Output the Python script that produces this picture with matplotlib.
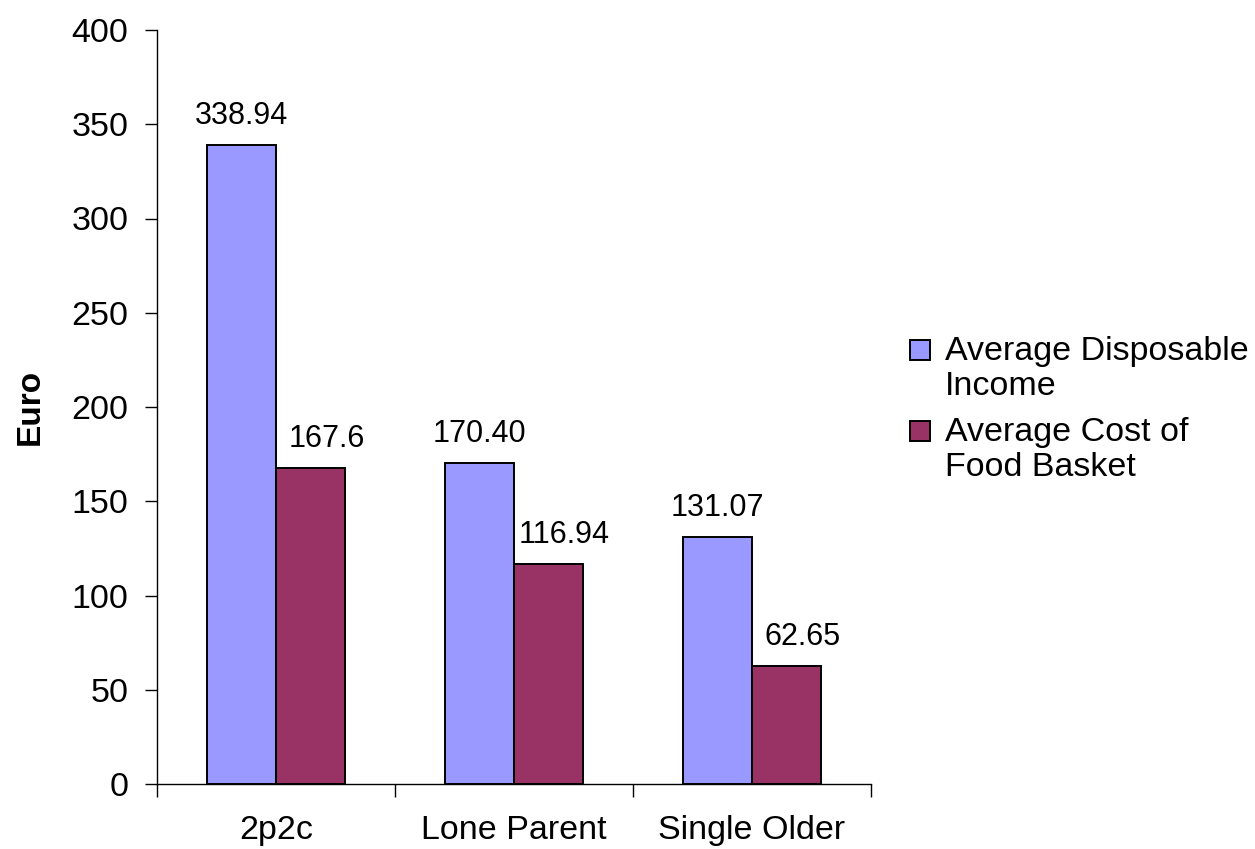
import matplotlib
matplotlib.use("Agg")
import matplotlib.pyplot as plt
from matplotlib.patches import Rectangle
import numpy as np

# Data
categories = ["2p2c", "Lone Parent", "Single Older"]
income = [338.94, 170.40, 131.07]
food_cost = [167.6, 116.94, 62.65]
income_labels = ["338.94", "170.40", "131.07"]
food_labels = ["167.6", "116.94", "62.65"]
series_names = ["Average Disposable\nIncome", "Average Cost of\nFood Basket"]
yticks = [0, 50, 100, 150, 200, 250, 300, 350, 400]

BLUE = "#9999FF"
PLUM = "#993366"

plt.rcParams["font.family"] = ["Liberation Sans", "DejaVu Sans"]

W, H = 1255, 849
fig = plt.figure(figsize=(W / 100, H / 100), dpi=100)
fig.patch.set_facecolor("white")

# axes box in pixel terms
x0, x1 = 157, 871
ytop, ybot = 30, 784
ax = fig.add_axes([x0 / W, 1 - ybot / H, (x1 - x0) / W, (ybot - ytop) / H])

x = np.arange(len(categories))
bw = 0.29
ax.bar(x - bw / 2, income, bw, color=BLUE, edgecolor="black", linewidth=1.4, zorder=3)
ax.bar(x + bw / 2, food_cost, bw, color=PLUM, edgecolor="black", linewidth=1.4, zorder=3)

# value labels
for xi, v, lab in zip(x, income, income_labels):
    ax.annotate(lab, (xi - bw / 2, v), xytext=(0, 15), textcoords="offset points",
                ha="center", va="baseline", fontsize=22)
for xi, v, lab in zip(x, food_cost, food_labels):
    ax.annotate(lab, (xi + bw / 2, v), xytext=(11.5, 15), textcoords="offset points",
                ha="center", va="baseline", fontsize=22)

ax.set_xlim(-0.5, len(categories) - 0.5)
ax.set_ylim(0, 400)

for s in ("top", "right"):
    ax.spines[s].set_visible(False)
for s in ("left", "bottom"):
    ax.spines[s].set_linewidth(1.0)
    ax.spines[s].set_color("black")

ax.set_yticks(yticks)
ax.set_yticklabels([str(t) for t in yticks], fontsize=24.5)
ax.tick_params(axis="y", direction="out", length=8.5, width=1.0, pad=12)

# category boundaries as major ticks, names centred as minor ticks
ax.set_xticks(np.arange(len(categories) + 1) - 0.5)
ax.set_xticklabels([])
ax.tick_params(axis="x", which="major", direction="out", length=9.5, width=1.0)
ax.set_xticks(x, minor=True)
ax.set_xticklabels(categories, minor=True, fontsize=24.5)
ax.tick_params(axis="x", which="minor", length=0, pad=22)

fig.text(30 / W, 1 - 407 / H, "Euro", rotation=90, ha="center", va="center",
         fontsize=24, fontweight="bold")

# legend
sq = 20
for i, (name, col) in enumerate(zip(series_names, [BLUE, PLUM])):
    top = 340 + i * 81
    fig.patches.append(Rectangle((910 / W, 1 - (top + sq) / H), sq / W, sq / H,
                                 transform=fig.transFigure, facecolor=col,
                                 edgecolor="black", linewidth=1.4))
    fig.text(945 / W, 1 - (top - 4) / H, name, ha="left", va="top",
             fontsize=24.5, linespacing=1.15)

fig.savefig("out.png", dpi=100, facecolor="white")
